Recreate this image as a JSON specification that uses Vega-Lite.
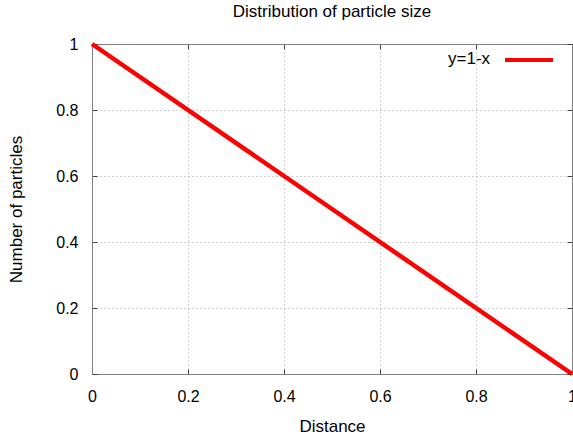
{
  "$schema": "https://vega.github.io/schema/vega-lite/v6.json",
  "width": 480,
  "height": 330,
  "autosize": {"type": "none"},
  "padding": {"left": 92, "top": 44, "right": 1, "bottom": 64},
  "background": "white",
  "title": {"text": "Distribution of particle size", "font": "Liberation Sans", "fontSize": 17, "fontWeight": "normal", "color": "#000000", "offset": 13},
  "config": {
    "view": {"stroke": "#808080", "strokeWidth": 1},
    "axis": {"labelFont": "Liberation Sans", "labelFontSize": 16, "labelColor": "#000000", "titleFont": "Liberation Sans", "titleFontSize": 17, "titleFontWeight": "normal", "titleColor": "#000000", "domainColor": "#808080", "tickColor": "#404040", "gridColor": "#a0a0a0", "gridDash": [1, 3], "gridWidth": 1, "labelFlush": false, "labelOverlap": false}
  },
  "data": {"values": [
    {"Distance": 0, "y": 1, "series": "y=1-x"},
    {"Distance": 0.5, "y": 0.5, "series": "y=1-x"},
    {"Distance": 1, "y": 0, "series": "y=1-x"}
  ]},
  "layer": [
    {
      "mark": {"type": "line", "strokeWidth": 4.5, "clip": false},
      "encoding": {
        "x": {"field": "Distance", "type": "quantitative", "scale": {"domain": [0, 1], "nice": false},
          "axis": {"title": "Distance", "values": [0, 0.2, 0.4, 0.6, 0.8, 1], "format": "~g", "tickSize": -5, "labelPadding": 19, "titlePadding": 14}},
        "y": {"field": "y", "type": "quantitative", "scale": {"domain": [0, 1], "nice": false},
          "axis": {"title": "Number of particles", "values": [0, 0.2, 0.4, 0.6, 0.8, 1], "format": "~g", "tickSize": -5, "labelPadding": 19, "titlePadding": 30}},
        "color": {"field": "series", "type": "nominal", "scale": {"range": ["#ff0000"]},
          "legend": {"title": "y=1-x", "titleOrient": "left", "titleAnchor": "middle", "titleBaseline": "top", "titleFont": "Liberation Sans", "titleFontSize": 17, "titleFontWeight": "normal", "titleColor": "#000000", "titlePadding": 12, "labelExpr": "''", "labelLimit": 0, "labelOffset": 0, "symbolType": "stroke", "symbolSize": 2304, "symbolStrokeWidth": 4, "orient": "none", "legendX": 356, "legendY": -10}}
      }
    },
    {
      "mark": {"type": "point", "opacity": 0},
      "encoding": {
        "x": {"field": "Distance", "type": "quantitative", "axis": {"orient": "top", "title": null, "labels": false, "grid": false, "values": [0, 0.2, 0.4, 0.6, 0.8, 1], "tickSize": -5}},
        "y": {"field": "y", "type": "quantitative", "axis": {"orient": "right", "title": null, "labels": false, "grid": false, "values": [0, 0.2, 0.4, 0.6, 0.8, 1], "tickSize": -5}}
      }
    }
  ],
  "resolve": {"axis": {"x": "independent", "y": "independent"}}
}
